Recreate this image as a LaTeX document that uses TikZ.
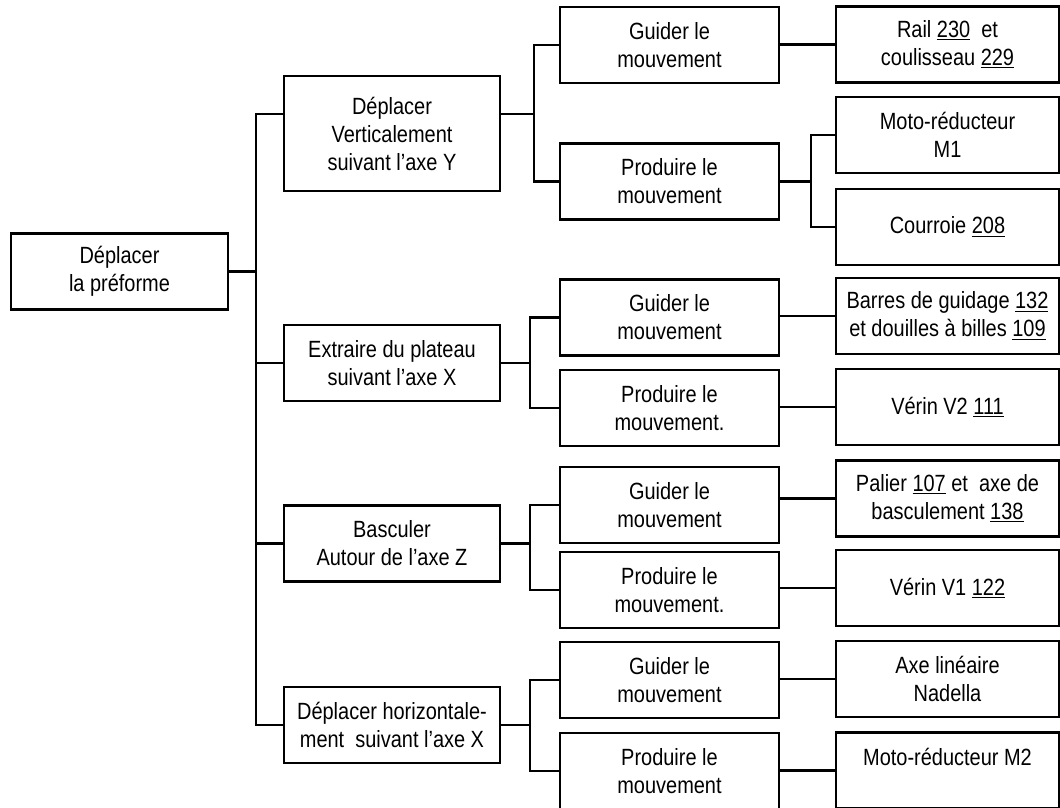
\documentclass[tikz,border=0pt]{standalone}
\usepackage{fontspec}
\setmainfont{Liberation Sans}[FakeStretch=0.85]

\begin{document}
\begin{tikzpicture}[
    x=0.025cm, y=-0.025cm,
    font=\fontsize{16.7}{19.9}\selectfont,
    scatola/.style={draw,line width=1.6pt,align=center,inner sep=1pt,minimum height=1.9cm},
    niv0/.style={scatola,minimum width=5.425cm},
    niv1/.style={scatola,minimum width=5.4cm},
    niv2/.style={scatola,minimum width=5.475cm},
    niv3/.style={scatola,minimum width=5.575cm},
    filo/.style={line width=1.5pt}]

  \useasboundingbox (0,0) rectangle (1060,808);

  % ---- la funzione principale ------------------------------------------------
  \node[niv0] (rad) at (119.5,271.5) {Déplacer\\la préforme};

  % ---- le quattro sotto-funzioni --------------------------------------------
  \node[niv1,minimum height=2.875cm] (vert) at (392,133.5)
       {Déplacer\\Verticalement\\suivant l'axe Y};
  \node[niv1] (extr) at (392,363)   {Extraire du plateau\\suivant l'axe X};
  \node[niv1] (basc) at (392,543.5) {Basculer\\Autour de l'axe Z};
  \node[niv1] (horz) at (392,725)   {Déplacer horizontale-\\ment\ \ suivant l'axe X};

  % ---- guidare / produrre ---------------------------------------------------
  \node[niv2] (gvert) at (669.5,45)    {Guider le\\mouvement};
  \node[niv2] (pvert) at (669.5,181.5) {Produire le\\mouvement};
  \node[niv2] (gextr) at (669.5,317.5) {Guider le\\mouvement};
  \node[niv2] (pextr) at (669.5,408)   {Produire le\\mouvement.};
  \node[niv2] (gbasc) at (669.5,505)   {Guider le\\mouvement};
  \node[niv2] (pbasc) at (669.5,590)   {Produire le\\mouvement.};
  \node[niv2] (ghorz) at (669.5,680)   {Guider le\\mouvement};
  \node[niv2] (phorz) at (669.5,771)   {Produire le\\mouvement};

  % ---- le soluzioni ---------------------------------------------------------
  \node[niv3] (rail)  at (947.5,44.5)  {Rail \underline{230}\ \ et\\coulisseau \underline{229}};
  \node[niv3] (moto1) at (947.5,135)   {Moto-réducteur\\M1};
  \node[niv3] (cour)  at (947.5,227)   {Courroie \underline{208}};
  \node[niv3] (barr)  at (947.5,316)   {Barres de guidage \underline{132}\\et douilles à billes \underline{109}};
  \node[niv3] (ver2)  at (947.5,407)   {Vérin V2 \underline{111}};
  \node[niv3] (pal)   at (947.5,498.5) {Palier \underline{107} et\ \ axe de\\basculement \underline{138}};
  \node[niv3] (ver1)  at (947.5,588)   {Vérin V1 \underline{122}};
  \node[niv3] (axe)   at (947.5,679)   {Axe linéaire\\Nadella};
  \node[niv3] (moto2) at (947.5,770.5) {Moto-réducteur M2\\~};

  % ---- i collegamenti -------------------------------------------------------
  \draw[filo] (rad.east) -- ++(27,0) |- ([yshift=0.49cm]vert.west);
  \foreach \f in {extr,basc,horz}
    \draw[filo] (rad.east) -- ++(27,0) |- (\f.west);

  \foreach \g in {gvert,pvert}
    \draw[filo] ([yshift=0.49cm]vert.east) -- ++(33,0) |- (\g.west);
  \foreach \p/\a/\b in {extr/gextr/pextr,basc/gbasc/pbasc,horz/ghorz/phorz} {
    \draw[filo] (\p.east) -- ++(29,0) |- (\a.west);
    \draw[filo] (\p.east) -- ++(29,0) |- (\b.west);
  }

  \foreach \s in {moto1,cour}
    \draw[filo] (pvert.east) -- ++(31,0) |- (\s.west);
  \foreach \a/\b in {gvert/rail,gextr/barr,pextr/ver2,gbasc/pal,pbasc/ver1,ghorz/axe,phorz/moto2}
    \draw[filo] (\a.east |- \b.west) -- (\b.west);

\end{tikzpicture}
\end{document}
